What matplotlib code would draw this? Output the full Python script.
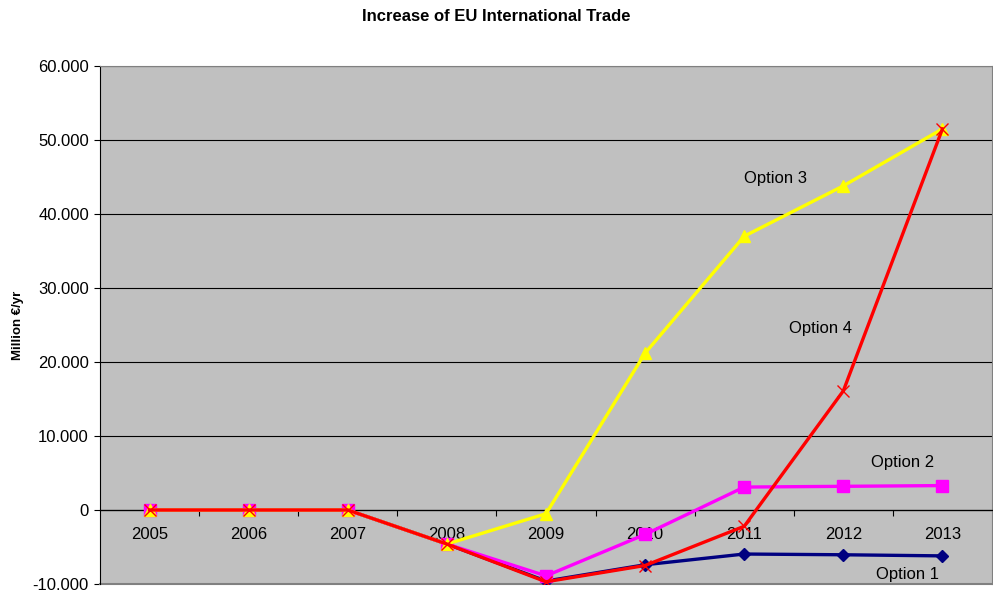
import matplotlib
matplotlib.use("Agg")
import matplotlib.pyplot as plt
import numpy as np

years = ["2005", "2006", "2007", "2008", "2009", "2010", "2011", "2012", "2013"]
option1 = [0, 0, 0, -4.6, -9.6, -7.4, -5.95, -6.05, -6.2]
option2 = [0, 0, 0, -4.6, -8.9, -3.3, 3.1, 3.2, 3.3]
option3 = [0, 0, 0, -4.6, -0.5, 21.2, 37.0, 43.8, 51.5]
option4 = [0, 0, 0, -4.6, -9.7, -7.5, -2.2, 16.1, 51.5]
yticks = [-10, 0, 10, 20, 30, 40, 50, 60]
ytick_labels = ["-10.000", "0", "10.000", "20.000", "30.000", "40.000", "50.000", "60.000"]

plt.rcParams['font.family'] = ['Liberation Sans', 'DejaVu Sans']

fig = plt.figure(figsize=(9.93, 5.93), dpi=100)
ax = fig.add_axes([100/993, 9/593, 892/993, 518/593])
ax.set_facecolor('#C0C0C0')

x = np.arange(len(years))
ax.plot(x, option1, color='#000080', lw=2.4, marker='D', ms=6.5, zorder=3)
ax.plot(x, option2, color='#FF00FF', lw=2.4, marker='s', ms=8.5, zorder=4)
ax.plot(x, option3, color='#FFFF00', lw=2.4, marker='^', ms=8.5, zorder=5)
ax.plot(x, option4, color='#FF0000', lw=2.4, marker='x', ms=8, mew=1.0, zorder=6)

ax.set_xlim(-0.5, len(years) - 0.5)
ax.set_ylim(-10, 60)
ax.set_yticks(yticks)
ax.set_yticklabels(ytick_labels, fontsize=12)
ax.yaxis.grid(True, color='black', lw=0.8)
ax.set_axisbelow(True)

# category axis crossing at zero
ax.spines['bottom'].set_position(('data', 0))
ax.spines['bottom'].set_color('black')
ax.spines['bottom'].set_linewidth(0.9)
ax.spines['top'].set_color('#808080')
ax.spines['right'].set_color('#808080')
ax.spines['left'].set_color('black')
ax.set_xticks(np.arange(len(years) - 1) + 0.5)
ax.set_xticklabels([])
ax.set_xticks(x, minor=True)
ax.set_xticklabels(years, minor=True, fontsize=12)
ax.tick_params(axis='x', which='major', direction='out', length=4, color='black')
ax.tick_params(axis='x', which='minor', length=0, pad=12)
ax.tick_params(axis='y', direction='out', length=4, pad=4)

# bottom border of plot area
ax.axhline(-10, color='#808080', lw=1.5, zorder=2, clip_on=False)

ax.set_ylabel("Million €/yr", fontsize=9.5, fontweight='bold', labelpad=6)
fig.suptitle("Increase of EU International Trade", fontsize=12, fontweight='bold', y=0.985)

ax.annotate("Option 3", (6.32, 44.8), fontsize=12, ha='center', va='center')
ax.annotate("Option 4", (6.77, 24.5), fontsize=12, ha='center', va='center')
ax.annotate("Option 2", (7.6, 6.4), fontsize=12, ha='center', va='center')
ax.annotate("Option 1", (7.65, -8.7), fontsize=12, ha='center', va='center')

fig.savefig("out.png", dpi=100)
